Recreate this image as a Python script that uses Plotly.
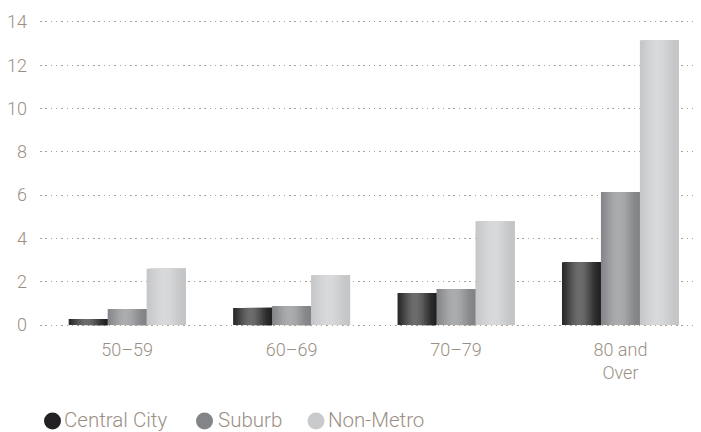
import plotly.graph_objects as go
import math

categories = ["50–59", "60–69", "70–79", "80 and<br>Over"]
central_city = [0.28, 0.79, 1.48, 2.9]
suburb = [0.74, 0.88, 1.66, 6.14]
non_metro = [2.6, 2.3, 4.8, 13.16]
y_ticks = [0, 2, 4, 6, 8, 10, 12, 14]
series_names = ["Central City", "Suburb", "Non-Metro"]

series = [
    (central_city, (0x22, 0x22, 0x22), (0x6c, 0x6c, 0x6c), "#222022"),
    (suburb, (0x82, 0x83, 0x86), (0xab, 0xac, 0xae), "#838487"),
    (non_metro, (0xc4, 0xc5, 0xc7), (0xd8, 0xd9, 0xdb), "#c9cacc"),
]

bar_w = 0.237
n_strips = 22
strip_w = bar_w / n_strips
text_color = "#9b8f85"
font_family = "Roboto, 'DejaVu Sans', sans-serif"

# page has an 8px body margin; figure sized so it fits the 701x432 window
OFF = 8
FIG_W, FIG_H = 701 - OFF, 432 - OFF
L, T, W, H = 40 - OFF, 20 - OFF, 661, 307

fig = go.Figure()
for si, (vals, edge, peak, legend_col) in enumerate(series):
    start = -1.5 * bar_w + si * bar_w
    for k in range(n_strips):
        t = (k + 0.5) / n_strips
        d = abs(t - 0.45) / 0.55
        f = (math.cos(min(d, 1) * math.pi) + 1) / 2
        c = tuple(int(round(edge[j] + (peak[j] - edge[j]) * f)) for j in range(3))
        fig.add_trace(go.Bar(
            x=categories, y=vals,
            width=bar_w - k * strip_w,
            offset=start + k * strip_w,
            marker=dict(color="rgb(%d,%d,%d)" % c, line=dict(width=0)),
            showlegend=False, hoverinfo="skip",
        ))

def px_x(p):
    return (p - OFF - L) / W
def px_y(p):
    return (T + H - (p - OFF)) / H

# custom legend (circle + label); positions given in window pixels
legend_circle_px = [52.5, 204.5, 316]
legend_text_px = [63, 217, 327]
legend_circle_y_px = 421
legend_text_y_px = 419.5
for name, (_, _, _, col), cx, tx in zip(series_names, series, legend_circle_px, legend_text_px):
    fig.add_shape(
        type="circle", xref="paper", yref="paper",
        xsizemode="pixel", ysizemode="pixel",
        xanchor=px_x(cx), yanchor=px_y(legend_circle_y_px),
        x0=-8.5, x1=8.5, y0=-8.5, y1=8.5,
        fillcolor=col, line=dict(width=0),
    )
    fig.add_annotation(
        x=px_x(tx), y=px_y(legend_text_y_px), xref="paper", yref="paper",
        xanchor="left", yanchor="middle", showarrow=False, text=name,
        font=dict(size=20.5, color=text_color, family=font_family, weight=300),
        borderpad=0,
    )

fig.update_layout(
    width=FIG_W, height=FIG_H,
    margin=dict(l=L, r=FIG_W - L - W, t=T, b=FIG_H - T - H),
    paper_bgcolor="white", plot_bgcolor="white",
    barmode="overlay", showlegend=False,
    font=dict(family=font_family, color=text_color, size=18, weight=300),
    xaxis=dict(
        type="category", range=[-0.53, 3.49], automargin=False,
        showgrid=False, showline=False, zeroline=False,
        ticks="", ticklabelstandoff=10,
        tickfont=dict(size=18, color=text_color, weight=300),
    ),
    yaxis=dict(
        range=[-0.09, 14.09], tickvals=y_ticks, automargin=False,
        showgrid=True, gridcolor="#ad9f90", griddash="1.5px,3.8px", gridwidth=1,
        zeroline=False, showline=False, ticks="", ticklabelstandoff=12,
        tickfont=dict(size=18, color=text_color, weight=300),
    ),
)

fig.write_html("out.html")
